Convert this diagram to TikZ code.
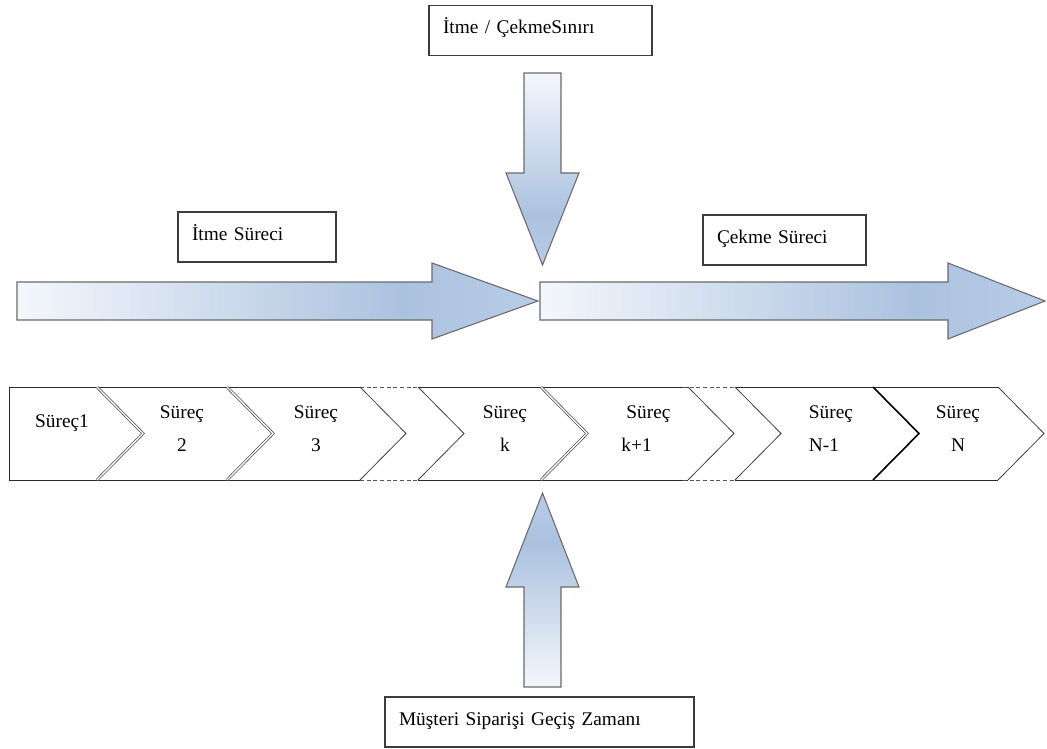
\documentclass[tikz,border=0pt]{standalone}
\usepackage{fontspec}
\setmainfont{Liberation Serif}
\usetikzlibrary{calc}

\definecolor{arrowlight}{HTML}{F4F7FC}
\definecolor{arrowmid}{HTML}{ABC2DF}
\definecolor{arrowtip}{HTML}{B8CCE6}
\definecolor{arrowedge}{HTML}{6A6A6A}
\definecolor{boxedge}{HTML}{3C3C3C}
\definecolor{rowedge}{HTML}{2A2A2A}

% light tail -> blue body -> slightly lighter tip (stops inside 25bp..75bp)
\pgfdeclarehorizontalshading{blockarrow}{100bp}{%
  color(0bp)=(arrowlight); color(25bp)=(arrowlight);
  color(62bp)=(arrowmid); color(75bp)=(arrowtip); color(100bp)=(arrowtip)}

\begin{document}
\begin{tikzpicture}[x=0.75pt,y=-0.75pt,
  txt/.style={font=\fontsize{14.5}{24.75}\selectfont},
  labelbox/.style={txt, draw=boxedge, line width=1pt, fill=white,
    inner xsep=10.5pt, inner ysep=0pt, text height=11.25pt, text depth=6.75pt,
    align=left, minimum height=37.5pt},
  fatarrow/.style={draw=arrowedge, line width=0.8pt, shading=blockarrow,
    line join=miter},
  steplabel/.style={txt, inner sep=0pt},
  rowline/.style={draw=rowedge, line width=0.7pt},
  rowgap/.style={draw=rowedge!80, line width=0.7pt, dash pattern=on 3pt off 2pt},
  pairline/.style={draw=black!70, line width=0.55pt, double=white, double distance=1pt},
  oneline/.style={draw=rowedge!90, line width=0.6pt},
  heavyline/.style={draw=black, line width=1.2pt},
]
\useasboundingbox (0,0) rectangle (1047,749);

% ---------- text boxes ----------
\node[labelbox, minimum width=167.25pt, text width=146.25pt] (border) at (540.5,30.5) {İtme / ÇekmeSınırı};
\node[labelbox, minimum width=118.5pt,  text width=97.5pt]   (push)   at (257,237)    {İtme Süreci};
\node[labelbox, minimum width=122.25pt, text width=101.25pt] (pull)   at (784.5,240)  {Çekme Süreci};
\node[labelbox, minimum width=231.75pt, text width=210.75pt] (order)  at (539.5,722)  {Müşteri Siparişi Geçiş Zamanı};

% ---------- block arrows ----------
% push flow (left), pointing right
\draw[fatarrow] (17,282) -- (432,282) -- (432,263) -- (538,301) -- (432,339) -- (432,320) -- (17,320) -- cycle;
% pull flow (right), pointing right
\draw[fatarrow] (540,282) -- (948,282) -- (948,263) -- (1045,301) -- (948,339) -- (948,320) -- (540,320) -- cycle;
% push/pull boundary, pointing down
\draw[fatarrow, shading angle=-90] (524,73) -- (561,73) -- (561,173) -- (579,173) -- (542.5,265) -- (506,173) -- (524,173) -- cycle;
% customer order lead time, pointing up
\draw[fatarrow, shading angle=90] (524,687) -- (561,687) -- (561,587) -- (579,587) -- (542.5,493) -- (506,587) -- (524,587) -- cycle;

% ---------- process chevron row ----------
\draw[rowline] (9,387) -- (9,480);
\draw[rowline] (9,387) -- (360,387);
\draw[rowline] (9,480) -- (360,480);
\draw[rowgap]  (360,387) -- (418,387);
\draw[rowgap]  (360,480) -- (418,480);
\draw[rowline] (418,387) -- (688,387);
\draw[rowline] (418,480) -- (688,480);
\draw[rowgap]  (683,387) -- (735,387);
\draw[rowgap]  (683,480) -- (735,480);
\draw[rowline] (735,387) -- (998,387);
\draw[rowline] (735,480) -- (998,480);

\foreach \cx in {97,227,541}
  \draw[pairline] (\cx,387) -- ++(46,46.5) -- ++(-46,46.5);
\foreach \cx in {360,418,688,735,998}
  \draw[oneline] (\cx,387) -- ++(46,46.5) -- ++(-46,46.5);
\draw[heavyline] (873,387) -- ++(46,46.5) -- ++(-46,46.5);

% ---------- process labels ----------
\node[steplabel] (s1) at (62,423) {Süreç1};
\node[steplabel, align=center] (s2) at (182,429) {Süreç\\2};
\node[steplabel, align=center] (s3) at (316,429) {Süreç\\3};
\node[steplabel, align=center] (sk) at (505,429) {Süreç\\k};
\node[steplabel, align=left]   (sk1) at (646,429) {\hspace*{3.75pt}Süreç\\k+1};
\node[steplabel, align=left]   (sn1) at (831,429) {Süreç\\N-1};
\node[steplabel, align=center] (sn) at (958,429) {Süreç\\N};
\end{tikzpicture}
\end{document}
